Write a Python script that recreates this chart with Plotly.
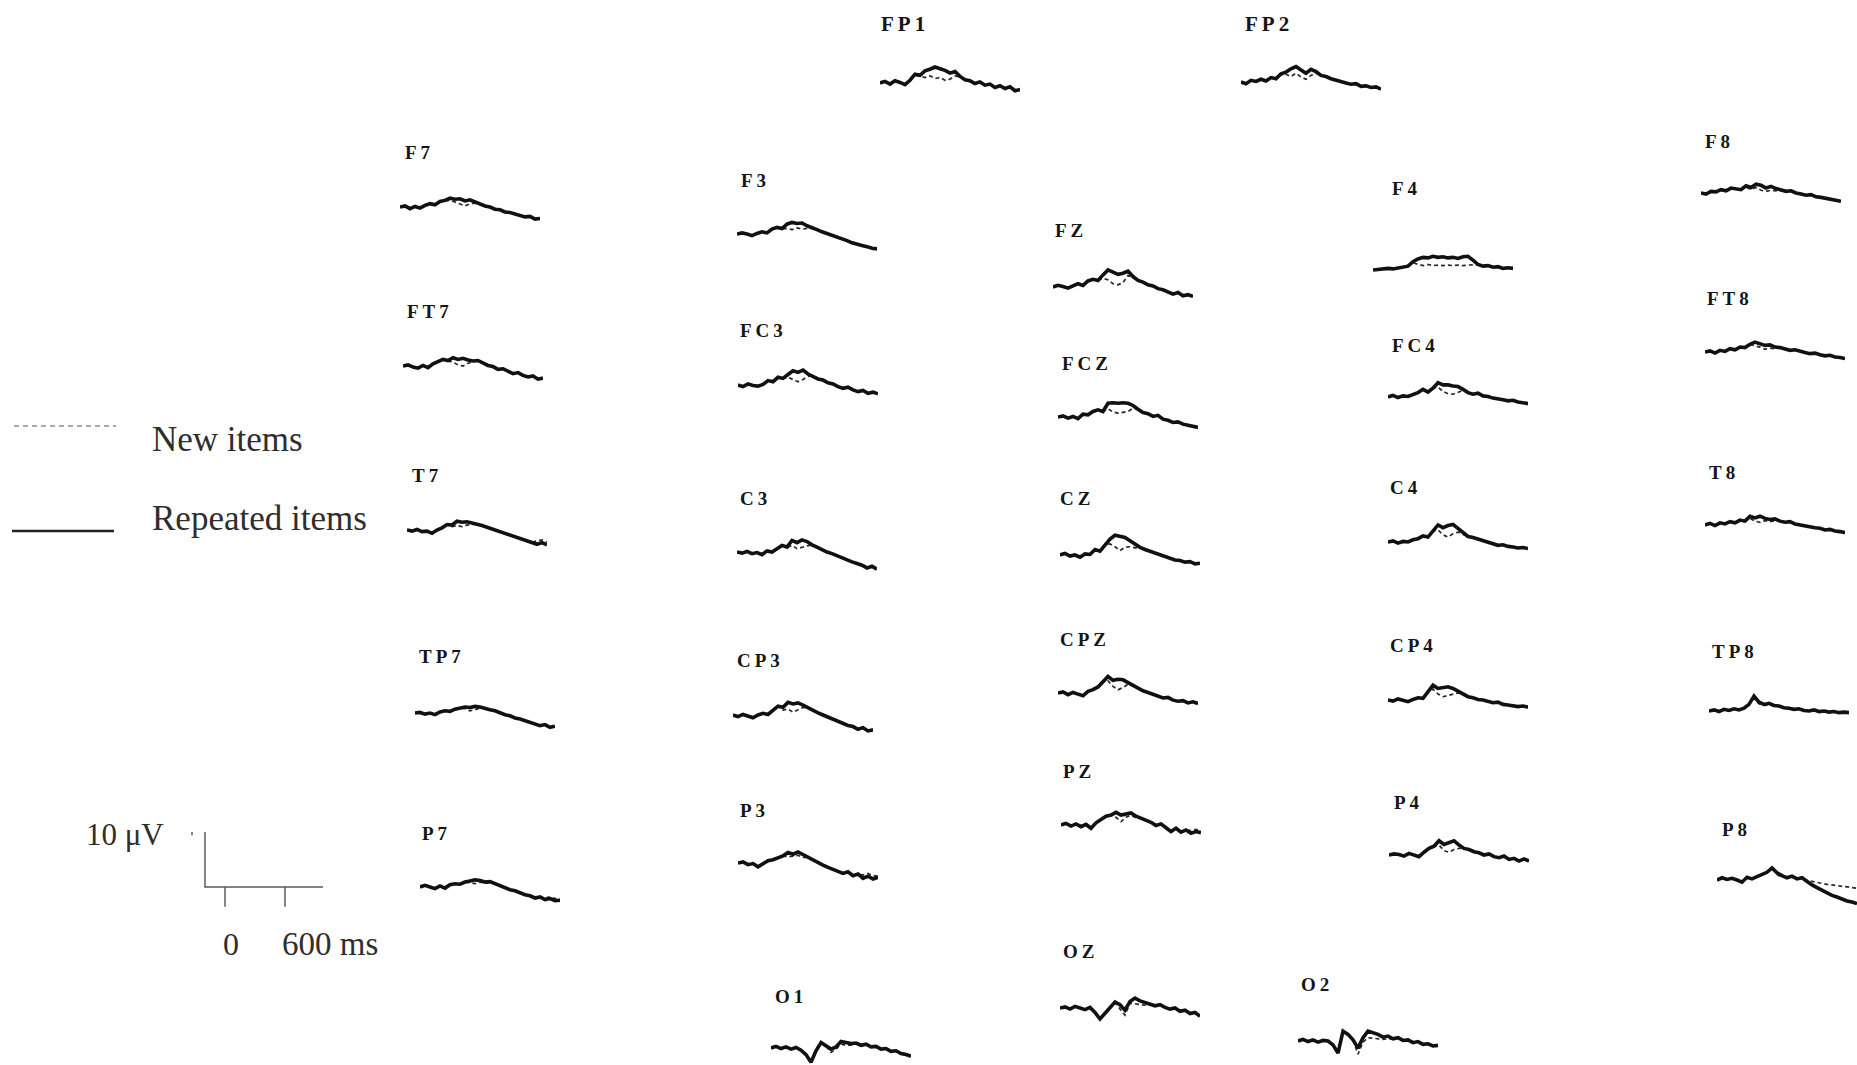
import plotly.graph_objects as go

W, H = 1857, 1065

# ---------------- data (µV), time in ms ----------------
TIME_MS = [-200, -150, -100, -50, 0, 50, 100, 150, 200, 250, 300, 350, 400, 450, 500,
           550, 600, 650, 700, 750, 800, 850, 900, 950, 1000, 1050, 1100, 1150, 1200]

FP1_REP = [0.0, 0.3, -0.2, 0.4, 0.1, -0.3, 0.5, 1.6, 1.4, 2.2, 2.5, 2.9, 2.6, 2.3, 1.8, 2.1, 1.2, 0.6, 0.4, -0.1, 0.2, -0.4, -0.2, -0.8, -0.5, -1.0, -0.7, -1.4, -1.2]
FP1_NEW = [0.0, 0.3, -0.2, 0.4, 0.1, -0.3, 0.5, 1.4, 1.2, 1.0, 1.3, 0.8, 1.0, 0.5, 0.7, 1.3, 1.1, 0.6, 0.4, -0.1, 0.2, -0.4, -0.2, -0.8, -0.5, -1.0, -0.7, -1.4, -1.2]
FP2_REP = [0.0, -0.3, 0.3, 0.1, 0.5, 0.2, 0.8, 0.6, 1.5, 1.8, 2.4, 2.8, 2.2, 1.6, 2.3, 1.9, 1.2, 1.0, 0.6, 0.3, 0.1, -0.2, -0.4, -0.3, -0.8, -0.7, -1.0, -0.9, -1.3]
FP2_NEW = [0.0, -0.3, 0.3, 0.1, 0.5, 0.2, 0.8, 0.6, 1.3, 1.4, 1.0, 1.6, 0.9, 0.5, 1.2, 1.6, 1.1, 1.0, 0.6, 0.3, 0.1, -0.2, -0.4, -0.3, -0.8, -0.7, -1.0, -0.9, -1.3]
F7_REP = [0.0, 0.2, -0.3, 0.1, -0.2, 0.3, 0.6, 0.4, 1.0, 1.2, 1.6, 1.4, 1.5, 1.1, 1.3, 0.9, 0.5, 0.2, 0.0, -0.4, -0.5, -0.9, -1.0, -1.3, -1.5, -1.8, -1.7, -2.2, -2.1]
F7_NEW = [0.0, 0.2, -0.3, 0.1, -0.2, 0.3, 0.6, 0.4, 1.0, 1.1, 1.2, 0.9, 0.5, 0.2, 0.6, 0.7, 0.5, 0.2, 0.0, -0.4, -0.5, -0.9, -1.0, -1.3, -1.5, -1.8, -1.7, -2.2, -2.1]
F3_REP = [0.0, 0.2, 0.0, -0.3, 0.1, 0.4, 0.2, 0.9, 1.2, 1.0, 1.8, 2.1, 1.9, 2.0, 1.5, 1.2, 0.8, 0.4, 0.1, -0.3, -0.6, -0.9, -1.2, -1.6, -1.9, -2.1, -2.3, -2.6, -2.7]
F3_NEW = [0.0, 0.2, 0.0, -0.3, 0.1, 0.4, 0.2, 0.9, 1.2, 0.9, 1.0, 0.8, 1.1, 0.9, 1.0, 1.0, 0.8, 0.4, 0.1, -0.3, -0.6, -0.9, -1.2, -1.6, -1.9, -2.1, -2.3, -2.6, -2.7]
FZ_REP = [0.0, 0.3, 0.1, -0.2, 0.2, 0.6, 0.3, 1.1, 1.4, 1.2, 2.2, 3.1, 2.7, 2.3, 2.5, 2.9, 1.9, 1.2, 0.9, 0.4, 0.2, -0.3, -0.5, -0.9, -1.3, -1.0, -1.6, -1.4, -1.7]
FZ_NEW = [0.0, 0.3, 0.1, -0.2, 0.2, 0.6, 0.3, 1.1, 1.4, 1.2, 1.6, 1.3, 0.6, 0.4, 0.8, 2.1, 1.7, 1.2, 0.9, 0.4, 0.2, -0.3, -0.5, -0.9, -1.3, -1.0, -1.6, -1.4, -1.7]
F4_REP = [0.0, 0.1, 0.2, 0.3, 0.2, 0.4, 0.5, 0.7, 1.5, 2.0, 2.3, 2.2, 2.5, 2.3, 2.4, 2.2, 2.3, 2.1, 2.4, 2.5, 1.8, 1.0, 0.7, 0.8, 0.5, 0.6, 0.3, 0.4, 0.3]
F4_NEW = [0.0, 0.1, 0.2, 0.3, 0.2, 0.4, 0.5, 0.7, 1.3, 1.0, 0.8, 1.0, 0.8, 0.9, 0.8, 0.9, 0.8, 0.9, 0.8, 0.9, 1.0, 1.0, 0.7, 0.8, 0.5, 0.6, 0.3, 0.4, 0.3]
F8_REP = [0.0, -0.2, 0.3, 0.2, 0.6, 0.4, 0.9, 0.7, 0.6, 1.3, 1.0, 1.6, 1.4, 0.9, 1.2, 0.8, 0.6, 0.3, 0.4, 0.0, -0.2, -0.4, -0.3, -0.7, -0.8, -1.0, -1.1, -1.3, -1.5]
F8_NEW = [0.0, -0.2, 0.3, 0.2, 0.6, 0.4, 0.9, 0.7, 0.6, 1.1, 0.6, 1.0, 0.5, 0.3, 0.5, 0.4, 0.5, 0.3, 0.4, 0.0, -0.2, -0.4, -0.3, -0.7, -0.8, -1.0, -1.1, -1.3, -1.5]
FT7_REP = [0.0, 0.2, -0.2, -0.4, 0.1, -0.3, 0.4, 0.8, 1.2, 1.0, 1.5, 1.2, 1.4, 1.1, 0.9, 1.0, 0.6, 0.1, -0.1, -0.6, -0.5, -0.9, -1.4, -1.2, -1.7, -2.0, -1.8, -2.4, -2.2]
FT7_NEW = [0.0, 0.2, -0.2, -0.4, 0.1, -0.3, 0.4, 0.8, 1.2, 0.9, 0.7, 0.2, 0.0, 0.5, 0.8, 1.0, 0.6, 0.1, -0.1, -0.6, -0.5, -0.9, -1.4, -1.2, -1.7, -2.0, -1.8, -2.4, -2.2]
FC3_REP = [0.0, -0.3, 0.2, -0.1, -0.2, 0.1, 0.8, 0.6, 1.4, 1.2, 1.9, 2.6, 2.3, 2.7, 2.0, 1.6, 1.1, 0.9, 0.4, 0.2, -0.3, -0.6, -0.4, -0.9, -1.2, -1.0, -1.5, -1.3, -1.6]
FC3_NEW = [0.0, -0.3, 0.2, -0.1, -0.2, 0.1, 0.8, 0.6, 1.4, 1.2, 1.4, 1.0, 0.6, 1.0, 1.6, 1.6, 1.1, 0.9, 0.4, 0.2, -0.3, -0.6, -0.4, -0.9, -1.2, -1.0, -1.5, -1.3, -1.6]
FCZ_REP = [0.0, 0.2, -0.2, 0.1, -0.3, 0.5, 0.4, 1.0, 1.3, 1.0, 2.5, 2.6, 2.5, 2.6, 2.5, 2.1, 1.4, 0.8, 0.6, 0.1, 0.3, -0.4, -0.6, -1.0, -0.9, -1.3, -1.5, -1.7, -1.9]
FCZ_NEW = [0.0, 0.2, -0.2, 0.1, -0.3, 0.5, 0.4, 1.0, 1.3, 1.0, 1.5, 0.9, 0.7, 0.9, 1.0, 1.6, 1.4, 0.8, 0.6, 0.1, 0.3, -0.4, -0.6, -1.0, -0.9, -1.3, -1.5, -1.7, -1.9]
FC4_REP = [0.0, 0.3, -0.1, 0.2, 0.1, 0.5, 0.8, 1.4, 0.9, 1.6, 2.6, 2.2, 2.2, 2.0, 1.9, 1.4, 0.8, 0.5, 0.7, 0.2, 0.1, -0.2, -0.3, -0.5, -0.7, -0.6, -0.9, -1.0, -1.2]
FC4_NEW = [0.0, 0.3, -0.1, 0.2, 0.1, 0.5, 0.8, 1.4, 0.9, 1.6, 1.8, 1.0, 0.6, 0.5, 0.9, 1.2, 0.8, 0.5, 0.7, 0.2, 0.1, -0.2, -0.3, -0.5, -0.7, -0.6, -0.9, -1.0, -1.2]
FT8_REP = [0.0, 0.2, -0.2, 0.3, 0.1, 0.6, 0.4, 0.9, 0.8, 1.4, 1.8, 1.5, 1.2, 1.3, 0.9, 0.8, 0.6, 0.3, 0.4, 0.1, -0.1, -0.3, -0.2, -0.5, -0.7, -0.6, -0.9, -1.0, -1.2]
FT8_NEW = [0.0, 0.2, -0.2, 0.3, 0.1, 0.6, 0.4, 0.9, 0.8, 1.4, 1.1, 0.9, 0.5, 0.7, 0.6, 0.8, 0.6, 0.3, 0.4, 0.1, -0.1, -0.3, -0.2, -0.5, -0.7, -0.6, -0.9, -1.0, -1.2]
T7_REP = [0.0, -0.2, 0.1, -0.3, -0.2, -0.6, 0.0, 0.4, 1.0, 0.9, 1.6, 1.4, 1.5, 1.3, 1.1, 0.8, 0.5, 0.2, -0.1, -0.4, -0.7, -1.0, -1.3, -1.6, -1.9, -2.2, -2.6, -2.3, -2.7]
T7_NEW = [0.0, -0.2, 0.1, -0.3, -0.2, -0.6, 0.0, 0.4, 1.0, 0.6, 0.8, 0.6, 0.9, 1.0, 1.1, 0.8, 0.5, 0.2, -0.1, -0.4, -0.7, -1.0, -1.3, -1.6, -1.9, -2.2, -2.0, -1.8, -2.2]
C3_REP = [0.0, -0.2, 0.1, -0.3, -0.1, -0.5, 0.2, 0.0, 0.6, 1.2, 0.9, 2.1, 1.7, 2.2, 1.9, 1.3, 0.9, 0.4, 0.0, -0.3, -0.7, -1.0, -1.4, -1.8, -2.1, -2.4, -2.9, -2.6, -3.1]
C3_NEW = [0.0, -0.2, 0.1, -0.3, -0.1, -0.5, 0.2, 0.0, 0.6, 1.2, 0.8, 1.2, 0.6, 0.9, 1.1, 1.3, 0.9, 0.4, 0.0, -0.3, -0.7, -1.0, -1.4, -1.8, -2.1, -2.4, -2.9, -2.6, -3.1]
CZ_REP = [0.0, 0.3, -0.2, 0.0, -0.4, 0.2, 0.1, 1.0, 0.7, 1.8, 2.9, 3.6, 3.4, 3.2, 2.6, 2.0, 1.4, 1.0, 0.7, 0.3, 0.0, -0.3, -0.5, -0.9, -1.0, -1.3, -1.2, -1.6, -1.5]
CZ_NEW = [0.0, 0.3, -0.2, 0.0, -0.4, 0.2, 0.1, 1.0, 0.7, 1.8, 2.0, 1.5, 0.8, 1.4, 1.5, 1.3, 1.4, 1.0, 0.7, 0.3, 0.0, -0.3, -0.5, -0.9, -1.0, -1.3, -1.2, -1.6, -1.5]
C4_REP = [0.0, 0.2, -0.2, 0.1, 0.0, 0.4, 0.6, 1.1, 0.9, 2.0, 3.1, 2.6, 3.0, 3.2, 2.4, 1.6, 1.0, 0.8, 0.5, 0.2, -0.1, -0.3, -0.6, -0.5, -0.8, -0.9, -1.1, -1.0, -1.2]
C4_NEW = [0.0, 0.2, -0.2, 0.1, 0.0, 0.4, 0.6, 1.1, 0.9, 2.0, 2.2, 1.3, 0.9, 1.5, 1.8, 1.4, 1.0, 0.8, 0.5, 0.2, -0.1, -0.3, -0.6, -0.5, -0.8, -0.9, -1.1, -1.0, -1.2]
T8_REP = [0.0, 0.3, -0.1, 0.4, 0.2, 0.6, 0.4, 0.9, 0.7, 1.6, 1.3, 1.6, 1.2, 1.0, 1.1, 0.7, 0.5, 0.6, 0.2, 0.0, -0.2, -0.4, -0.5, -0.6, -0.9, -0.8, -1.1, -1.2, -1.4]
T8_NEW = [0.0, 0.3, -0.1, 0.4, 0.2, 0.6, 0.4, 0.9, 0.7, 1.2, 0.7, 0.5, 0.8, 0.6, 0.8, 0.7, 0.5, 0.6, 0.2, 0.0, -0.2, -0.4, -0.5, -0.6, -0.9, -0.8, -1.1, -1.2, -1.4]
TP7_REP = [0.0, 0.1, -0.2, 0.0, -0.3, 0.2, 0.4, 0.3, 0.7, 0.9, 1.1, 1.0, 1.2, 1.1, 0.8, 0.6, 0.4, 0.0, -0.3, -0.5, -0.9, -1.1, -1.4, -1.8, -2.0, -2.3, -2.1, -2.6, -2.4]
TP7_NEW = [0.0, 0.1, -0.2, 0.0, -0.3, 0.2, 0.4, 0.3, 0.7, 0.9, 0.8, 0.4, 0.6, 0.9, 0.8, 0.6, 0.4, 0.0, -0.3, -0.5, -0.9, -1.1, -1.4, -1.8, -2.0, -2.3, -2.1, -2.6, -2.4]
CP3_REP = [0.0, -0.3, 0.1, -0.2, -0.5, 0.0, 0.3, 0.1, 0.8, 1.6, 1.4, 2.3, 2.0, 2.2, 1.8, 1.3, 0.8, 0.4, 0.0, -0.4, -0.8, -1.1, -1.5, -1.9, -2.1, -2.6, -2.3, -2.9, -2.7]
CP3_NEW = [0.0, -0.3, 0.1, -0.2, -0.5, 0.0, 0.3, 0.1, 0.8, 1.6, 0.9, 1.1, 0.5, 0.9, 1.4, 1.3, 0.8, 0.4, 0.0, -0.4, -0.8, -1.1, -1.5, -1.9, -2.1, -2.6, -2.3, -2.9, -2.7]
CPZ_REP = [0.0, 0.2, -0.3, 0.1, -0.2, -0.5, 0.3, 0.6, 1.1, 2.0, 3.0, 2.3, 2.5, 2.4, 1.9, 1.3, 0.8, 0.4, 0.1, -0.2, -0.5, -0.9, -0.8, -1.3, -1.5, -1.4, -1.8, -1.6, -1.9]
CPZ_NEW = [0.0, 0.2, -0.3, 0.1, -0.2, -0.5, 0.3, 0.6, 1.1, 2.0, 2.2, 1.2, 0.6, 1.0, 1.6, 1.3, 0.8, 0.4, 0.1, -0.2, -0.5, -0.9, -0.8, -1.3, -1.5, -1.4, -1.8, -1.6, -1.9]
CP4_REP = [0.0, -0.2, 0.2, 0.0, -0.3, 0.1, 0.4, 0.3, 1.5, 2.7, 2.1, 2.3, 2.4, 2.1, 1.6, 1.0, 0.6, 0.4, 0.1, 0.0, -0.3, -0.5, -0.4, -0.8, -0.9, -1.0, -1.2, -1.1, -1.3]
CP4_NEW = [0.0, -0.2, 0.2, 0.0, -0.3, 0.1, 0.4, 0.3, 1.5, 2.0, 1.1, 0.6, 0.8, 1.0, 1.3, 1.0, 0.6, 0.4, 0.1, 0.0, -0.3, -0.5, -0.4, -0.8, -0.9, -1.0, -1.2, -1.1, -1.3]
TP8_REP = [0.0, 0.2, -0.1, 0.3, 0.1, 0.4, 0.2, 0.5, 1.2, 2.7, 1.6, 1.2, 1.4, 1.0, 0.9, 0.6, 0.5, 0.3, 0.4, 0.1, 0.0, 0.2, -0.1, 0.0, -0.2, -0.1, -0.3, -0.2, -0.3]
TP8_NEW = [0.0, 0.2, -0.1, 0.3, 0.1, 0.4, 0.2, 0.5, 1.2, 2.3, 1.3, 1.0, 1.1, 1.0, 0.9, 0.6, 0.5, 0.3, 0.4, 0.1, 0.0, 0.2, -0.1, 0.0, -0.2, -0.1, -0.3, -0.2, -0.3]
P7_REP = [0.0, 0.3, 0.0, -0.3, 0.2, -0.2, 0.4, 0.6, 0.5, 0.9, 1.1, 1.3, 1.2, 0.9, 1.0, 0.6, 0.3, -0.1, -0.5, -0.7, -1.1, -1.4, -1.6, -2.0, -1.8, -2.3, -2.1, -2.5, -2.4]
P7_NEW = [0.0, 0.3, 0.0, -0.3, 0.2, -0.2, 0.4, 0.6, 0.5, 0.9, 0.8, 0.6, 0.9, 0.7, 0.8, 0.6, 0.3, -0.1, -0.5, -0.7, -1.1, -1.4, -1.6, -2.0, -1.8, -2.0, -1.8, -2.1, -2.2]
P3_REP = [0.0, 0.2, -0.3, -0.1, -0.7, -0.2, 0.4, 0.6, 1.0, 1.3, 1.9, 1.6, 2.0, 1.5, 1.0, 0.5, 0.0, -0.4, -0.8, -1.2, -1.5, -1.9, -1.6, -2.3, -2.0, -2.8, -2.4, -2.9, -2.6]
P3_NEW = [0.0, 0.2, -0.3, -0.1, -0.7, -0.2, 0.4, 0.6, 1.0, 1.3, 1.1, 1.2, 1.4, 1.0, 1.0, 0.5, 0.0, -0.4, -0.8, -1.2, -1.5, -1.9, -1.6, -2.3, -2.0, -2.2, -1.9, -2.3, -2.4]
PZ_REP = [0.0, 0.3, -0.2, 0.2, -0.3, 0.1, -0.6, 0.4, 1.0, 1.6, 1.8, 2.3, 1.8, 2.0, 2.2, 1.6, 1.2, 0.9, 0.5, -0.1, 0.2, -0.5, -1.2, -0.6, -1.3, -0.9, -1.5, -1.2, -1.4]
PZ_NEW = [0.0, 0.3, -0.2, 0.2, -0.3, 0.1, -0.6, 0.4, 1.0, 1.6, 1.8, 1.4, 0.6, 1.4, 1.8, 1.3, 1.2, 0.9, 0.5, -0.1, 0.2, -0.5, -1.2, -0.6, -1.3, -0.9, -1.0, -0.8, -1.1]
P4_REP = [0.0, 0.2, 0.1, -0.2, 0.3, 0.0, -0.3, 0.5, 1.2, 1.6, 2.6, 1.9, 2.2, 2.6, 1.8, 1.2, 1.0, 0.6, 0.4, 0.0, 0.2, -0.3, -0.5, -0.2, -0.8, -0.6, -1.1, -0.7, -1.1]
P4_NEW = [0.0, 0.2, 0.1, -0.2, 0.3, 0.0, -0.3, 0.5, 1.2, 1.6, 1.8, 0.8, 0.5, 1.0, 1.2, 1.2, 1.0, 0.6, 0.4, 0.0, 0.2, -0.3, -0.5, -0.2, -0.8, -0.6, -1.1, -0.7, -1.1]
P8_REP = [0.0, 0.4, 0.1, 0.3, 0.0, -0.4, 0.5, 0.2, 0.6, 1.0, 1.4, 2.2, 1.3, 0.8, 0.4, 0.7, 0.2, 0.4, -0.3, -0.9, -1.4, -1.9, -2.4, -2.8, -3.1, -3.5, -3.8, -4.0, -4.3]
P8_NEW = [0.0, 0.4, 0.1, 0.3, 0.0, -0.4, 0.5, 0.2, 0.6, 1.0, 1.4, 2.2, 1.0, 0.5, 0.6, 0.5, 0.3, 0.1, -0.1, -0.3, -0.5, -0.6, -0.8, -0.9, -1.0, -1.1, -1.3, -1.3, -1.5]
OZ_REP = [0.0, 0.2, -0.2, 0.3, 0.0, -0.3, 0.1, -0.8, -2.0, -1.0, 0.2, 1.1, 0.6, -0.4, 1.2, 1.8, 1.3, 1.0, 0.8, 0.4, 0.6, 0.1, -0.2, 0.0, -0.6, -0.4, -1.0, -0.8, -1.5]
OZ_NEW = [0.0, 0.2, -0.2, 0.3, 0.0, -0.3, 0.1, -0.8, -2.0, -1.0, 0.2, 1.1, -0.2, -1.3, 0.9, 0.8, 0.6, 0.5, 0.6, 0.4, 0.6, 0.1, -0.2, 0.0, -0.6, -0.4, -1.0, -0.8, -1.5]
O1_REP = [0.0, 0.3, -0.1, 0.2, -0.2, 0.1, -0.4, -1.2, -2.6, -0.5, 1.0, 0.4, -0.2, 0.2, 1.2, 1.0, 0.8, 0.9, 0.5, 0.7, 0.2, 0.3, -0.2, -0.1, -0.6, -0.5, -1.0, -1.2, -1.5]
O1_NEW = [0.0, 0.3, -0.1, 0.2, -0.2, 0.1, -0.4, -1.2, -2.6, -0.5, 1.0, 0.4, -0.8, -0.2, 0.7, 0.5, 0.5, 0.9, 0.5, 0.7, 0.2, 0.3, -0.2, -0.1, -0.6, -0.5, -1.0, -1.2, -1.5]
O2_REP = [0.0, 0.3, -0.1, 0.2, -0.2, 0.1, 0.0, -0.7, -2.2, 1.8, 1.2, 0.2, -1.3, 0.6, 1.8, 1.5, 1.2, 0.7, 0.9, 0.4, 0.6, 0.1, 0.2, -0.3, -0.1, -0.6, -0.5, -0.9, -0.8]
O2_NEW = [0.0, 0.3, -0.1, 0.2, -0.2, 0.1, 0.0, -0.7, -2.2, 1.8, 1.2, 0.2, -2.4, -0.2, 0.6, 0.5, 0.4, 0.3, 0.4, 0.4, 0.6, 0.1, 0.2, -0.3, -0.1, -0.6, -0.5, -0.9, -0.8]

ELECTRODES = ["FP1", "FP2", "F7", "F3", "FZ", "F4", "F8", "FT7", "FC3", "FCZ", "FC4", "FT8",
              "T7", "C3", "CZ", "C4", "T8", "TP7", "CP3", "CPZ", "CP4", "TP8",
              "P7", "P3", "PZ", "P4", "P8", "OZ", "O1", "O2"]
REPEATED = [FP1_REP, FP2_REP, F7_REP, F3_REP, FZ_REP, F4_REP, F8_REP, FT7_REP, FC3_REP, FCZ_REP,
            FC4_REP, FT8_REP, T7_REP, C3_REP, CZ_REP, C4_REP, T8_REP, TP7_REP, CP3_REP, CPZ_REP,
            CP4_REP, TP8_REP, P7_REP, P3_REP, PZ_REP, P4_REP, P8_REP, OZ_REP, O1_REP, O2_REP]
NEW = [FP1_NEW, FP2_NEW, F7_NEW, F3_NEW, FZ_NEW, F4_NEW, F8_NEW, FT7_NEW, FC3_NEW, FCZ_NEW,
       FC4_NEW, FT8_NEW, T7_NEW, C3_NEW, CZ_NEW, C4_NEW, T8_NEW, TP7_NEW, CP3_NEW, CPZ_NEW,
       CP4_NEW, TP8_NEW, P7_NEW, P3_NEW, PZ_NEW, P4_NEW, P8_NEW, OZ_NEW, O1_NEW, O2_NEW]

SCALE_UV = 10
SCALE_TICKS_MS = [0, 600]
SERIES_NAMES = ["New items", "Repeated items"]

# ---------------- layout (page pixels) ----------------
# name: (label_x, label_y, panel_x0, baseline_y)
POS = {
    "FP1": (879, 24, 880, 83), "FP2": (1243, 24, 1241, 82),
    "F7": (403, 152, 400, 207), "F3": (739, 180, 737, 234), "FZ": (1053, 231, 1053, 287),
    "F4": (1390, 188, 1373, 270), "F8": (1703, 141, 1701, 193),
    "FT7": (405, 311, 403, 366), "FC3": (738, 330, 738, 385), "FCZ": (1060, 363, 1058, 417),
    "FC4": (1390, 345, 1388, 397), "FT8": (1705, 298, 1705, 352),
    "T7": (410, 476, 407, 530), "C3": (738, 498, 737, 552), "CZ": (1058, 499, 1060, 555),
    "C4": (1388, 487, 1388, 542), "T8": (1707, 473, 1705, 525),
    "TP7": (417, 656, 415, 713), "CP3": (735, 660, 733, 715), "CPZ": (1058, 639, 1058, 693),
    "CP4": (1388, 645, 1388, 700), "TP8": (1710, 651, 1709, 711),
    "P7": (420, 833, 420, 887), "P3": (738, 810, 738, 863), "PZ": (1061, 771, 1061, 825),
    "P4": (1392, 802, 1389, 855), "P8": (1720, 829, 1717, 880),
    "OZ": (1061, 951, 1060, 1008), "O1": (773, 996, 771, 1048), "O2": (1299, 984, 1298, 1041),
}
PX_PER_UV = 5.5
PX_PER_MS = 0.1
T_LO, T_HI = -200, 1200

SOLID = dict(color="#111111", width=3.6)
DASHED = dict(color="#2a2a2a", width=1.7, dash="4px,3px")
TXT = "#2e2e2e"


def panel_axes(x0px, base_px, t_lo, t_hi, half_uv=10):
    x1px = x0px + (t_hi - t_lo) * PX_PER_MS
    if x1px > W:
        t_hi = t_lo + (W - x0px) / PX_PER_MS
        x1px = W
    top = base_px - half_uv * PX_PER_UV
    bot = base_px + half_uv * PX_PER_UV
    y_lo, y_hi = -half_uv, half_uv
    if bot > H:
        y_lo = -(H - base_px) / PX_PER_UV
        bot = H
    if top < 0:
        y_hi = base_px / PX_PER_UV
        top = 0
    xdom = [max(0.0, x0px / W), min(1.0, x1px / W)]
    ydom = [max(0.0, 1 - bot / H), min(1.0, 1 - top / H)]
    return xdom, [t_lo, t_hi], ydom, [y_lo, y_hi]


fig = go.Figure()
layout_axes = {}
annotations = []


def add_axes(i, xdom, xr, ydom, yr):
    xa = "xaxis" if i == 1 else f"xaxis{i}"
    ya = "yaxis" if i == 1 else f"yaxis{i}"
    xref = "x" if i == 1 else f"x{i}"
    yref = "y" if i == 1 else f"y{i}"
    layout_axes[xa] = dict(domain=xdom, range=xr, visible=False, fixedrange=True, anchor=yref)
    layout_axes[ya] = dict(domain=ydom, range=yr, visible=False, fixedrange=True, anchor=xref)
    return xref, yref


for i, name in enumerate(ELECTRODES, start=1):
    lx, ly, x0, base = POS[name]
    xdom, xr, ydom, yr = panel_axes(x0, base, T_LO, T_HI)
    xref, yref = add_axes(i, xdom, xr, ydom, yr)
    fig.add_trace(go.Scatter(x=TIME_MS, y=NEW[i - 1], mode="lines", line=DASHED,
                             xaxis=xref, yaxis=yref, showlegend=False, hoverinfo="skip"))
    fig.add_trace(go.Scatter(x=TIME_MS, y=REPEATED[i - 1], mode="lines", line=SOLID,
                             xaxis=xref, yaxis=yref, showlegend=False, hoverinfo="skip"))
    size = 21 if name.startswith("FP") else 19
    annotations.append(dict(text=f"<span style='letter-spacing:4px'><b>{name}</b></span>",
                            x=lx / W, y=1 - ly / H, xref="paper", yref="paper",
                            xanchor="left", yanchor="middle", showarrow=False,
                            font=dict(family="Liberation Serif", size=size, color="#161616")))

# ---------------- calibration bar ----------------
k = len(ELECTRODES) + 1
xdom, xr, ydom, yr = panel_axes(185, 887, -400, 1200)
xref, yref = add_axes(k, xdom, xr, ydom, yr)
bar_x = [-200, -200, 980, None, SCALE_TICKS_MS[0], SCALE_TICKS_MS[0], None,
         SCALE_TICKS_MS[1], SCALE_TICKS_MS[1], None, -330, -330]
bar_y = [SCALE_UV, 0, 0, None, 0, -3.6, None, 0, -3.6, None, 9.4, 10.9]
fig.add_trace(go.Scatter(x=bar_x, y=bar_y, mode="lines", line=dict(color="#5a5a5a", width=1.5),
                         xaxis=xref, yaxis=yref, showlegend=False, hoverinfo="skip"))

serif = "Liberation Serif"
annotations += [
    dict(text=f"{SCALE_UV} μV", x=84 / W, y=1 - 834 / H, xanchor="left", yanchor="middle",
         font=dict(family=serif, size=31, color=TXT)),
    dict(text=f"{SCALE_TICKS_MS[0]}", x=231 / W, y=1 - 944 / H, xanchor="center", yanchor="middle",
         font=dict(family=serif, size=32, color=TXT)),
    dict(text=f"{SCALE_TICKS_MS[1]} ms", x=280 / W, y=1 - 944 / H, xanchor="left", yanchor="middle",
         font=dict(family=serif, size=33, color=TXT)),
    dict(text=SERIES_NAMES[0], x=150 / W, y=1 - 439 / H, xanchor="left", yanchor="middle",
         font=dict(family=serif, size=35, color=TXT)),
    dict(text=SERIES_NAMES[1], x=150 / W, y=1 - 518 / H, xanchor="left", yanchor="middle",
         font=dict(family=serif, size=35, color=TXT)),
]
for a in annotations:
    a.setdefault("xref", "paper")
    a.setdefault("yref", "paper")
    a.setdefault("showarrow", False)

shapes = [
    dict(type="line", xref="paper", yref="paper", x0=14 / W, x1=116 / W, y0=1 - 426 / H, y1=1 - 426 / H,
         line=dict(color="#555555", width=1.2, dash="5px,4px")),
    dict(type="line", xref="paper", yref="paper", x0=12 / W, x1=114 / W, y0=1 - 531 / H, y1=1 - 531 / H,
         line=dict(color="#222222", width=2.6)),
]

fig.update_layout(width=W, height=H, margin=dict(l=0, r=0, t=0, b=0, pad=0),
                  paper_bgcolor="white", plot_bgcolor="rgba(0,0,0,0)",
                  showlegend=False, annotations=annotations, shapes=shapes, **layout_axes)

fig.write_html("out.html")
